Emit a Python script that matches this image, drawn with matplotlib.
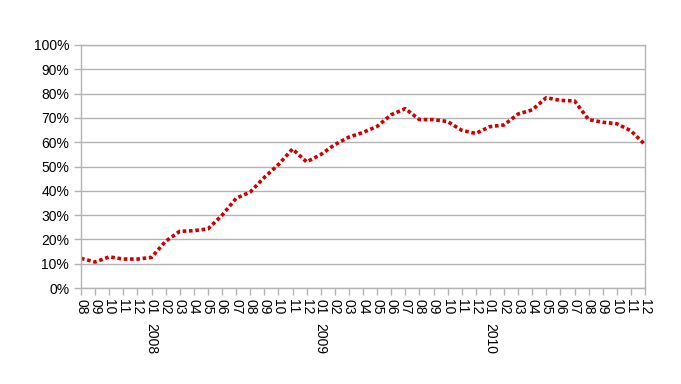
import matplotlib
matplotlib.use("Agg")
import matplotlib.pyplot as plt
from matplotlib.ticker import MultipleLocator, PercentFormatter

plt.rcParams['font.family'] = ['Liberation Sans', 'DejaVu Sans']

# months from 08/2007 to 12/2010
months = ["08", "09", "10", "11", "12"] + [f"{m:02d}" for m in range(1, 13)] * 3
years = {5: "2008", 17: "2009", 29: "2010"}
values = [12.2, 10.7, 12.8, 11.9, 11.9, 12.6, 19.2, 23.3, 23.6, 24.3,
          29.9, 36.9, 39.5, 45.5, 50.8, 57.2, 51.9, 54.9, 59.0, 62.1,
          64.0, 66.5, 71.3, 73.8, 69.3, 69.3, 68.5, 64.9, 63.6, 66.4,
          67.1, 71.6, 73.3, 78.3, 77.2, 77.0, 69.3, 68.2, 67.6, 64.7,
          59.0]

grey = "#b3b3b3"

fig = plt.figure(figsize=(6.81, 3.84), dpi=100)
ax = fig.add_axes([81 / 681, 1 - 288 / 384, 564 / 681, 243 / 384])

x = list(range(len(values)))
ax.plot(x, values, color="#cc0000", lw=2.6, linestyle=(0, (1, 0.75)),
        solid_capstyle="butt", dash_capstyle="butt")

ax.set_xlim(0, len(values) - 1)
ax.set_ylim(0, 100)
ax.yaxis.set_major_locator(MultipleLocator(10))
ax.yaxis.set_major_formatter(PercentFormatter(decimals=0))
ax.grid(axis="y", color=grey, lw=1)
ax.set_axisbelow(True)

ax.set_xticks(x)
ax.set_xticklabels(months, rotation=-90, va="top", ha="center")
for side in ["left", "right", "top", "bottom"]:
    ax.spines[side].set_color(grey)
    ax.spines[side].set_linewidth(1)
ax.tick_params(axis="both", colors=grey, labelcolor="black", labelsize=10,
               length=5, width=1, direction="out")
ax.tick_params(axis="x", pad=3)

for i, yr in years.items():
    ax.text(i, -0.144, yr, transform=ax.get_xaxis_transform(), rotation=-90,
            ha="center", va="top", fontsize=10)

fig.savefig("out.png", dpi=100)
